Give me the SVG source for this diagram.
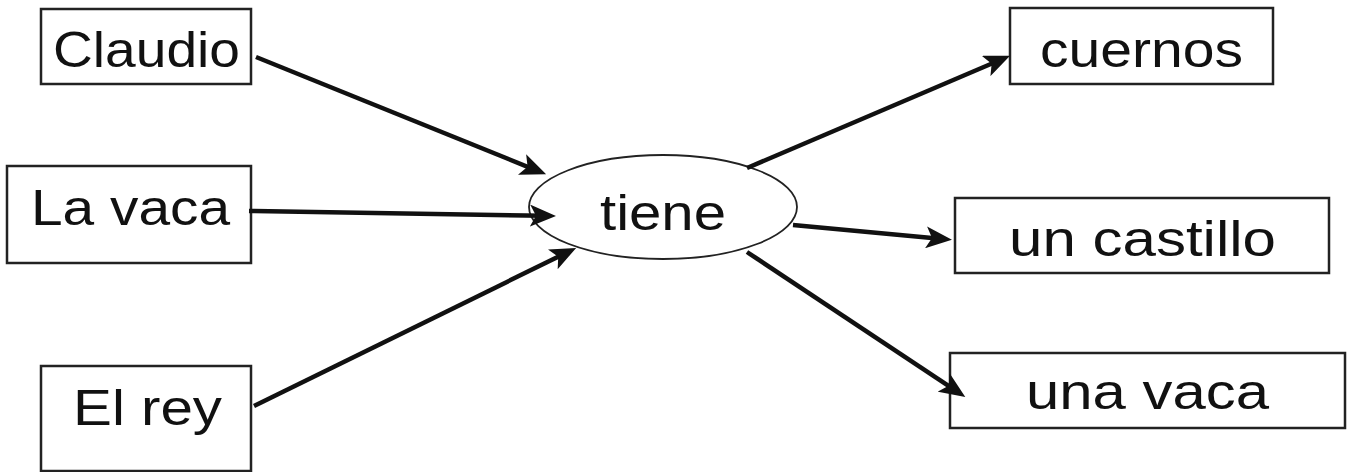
<svg xmlns="http://www.w3.org/2000/svg" width="1355" height="472" viewBox="0 0 1355 472">
<style>
.box{fill:#fff;stroke:#222;stroke-width:2.5}
.ell{fill:#fff;stroke:#222;stroke-width:1.8}
.lbl{font-family:"Liberation Sans","DejaVu Sans",sans-serif;font-size:50px;fill:#111;text-anchor:start}
.edge{stroke:#111;stroke-width:4.5;fill:none;marker-end:url(#ah)}
</style>
<defs>
<marker id="ah" markerUnits="userSpaceOnUse" markerWidth="26" markerHeight="22" viewBox="0 0 26 22" refX="14" refY="11" orient="auto">
<path d="M0,0 L26,11 L0,22 L6,11 z" fill="#111"/>
</marker>
</defs>
<rect width="1355" height="472" fill="#fff"/>
<g id="claudio"><rect class="box" x="41" y="9" width="210" height="75"/><text class="lbl" x="53" y="67" textLength="187" lengthAdjust="spacingAndGlyphs">Claudio</text></g>
<g id="lavaca"><rect class="box" x="7" y="166" width="244" height="97"/><text class="lbl" x="31" y="225" textLength="199" lengthAdjust="spacingAndGlyphs">La vaca</text></g>
<g id="elrey"><rect class="box" x="41" y="366" width="210" height="105"/><text class="lbl" x="73" y="425" textLength="149" lengthAdjust="spacingAndGlyphs">El rey</text></g>
<g id="tiene"><ellipse class="ell" cx="663" cy="207" rx="134" ry="52"/><text class="lbl" x="600" y="230" textLength="126" lengthAdjust="spacingAndGlyphs">tiene</text></g>
<g id="cuernos"><rect class="box" x="1010" y="8" width="263" height="76"/><text class="lbl" x="1040" y="67" textLength="203" lengthAdjust="spacingAndGlyphs">cuernos</text></g>
<g id="uncastillo"><rect class="box" x="955" y="198" width="374" height="75"/><text class="lbl" x="1009" y="256" textLength="267" lengthAdjust="spacingAndGlyphs">un castillo</text></g>
<g id="unavaca"><rect class="box" x="950" y="353" width="395" height="75"/><text class="lbl" x="1026" y="409" textLength="243" lengthAdjust="spacingAndGlyphs">una vaca</text></g>
<g id="connectors">
<line class="edge" x1="256" y1="57" x2="535" y2="169.8"/>
<line class="edge" x1="249" y1="211" x2="544" y2="215.8"/>
<line class="edge" x1="254" y1="406" x2="565.4" y2="253.2"/>
<line class="edge" x1="747" y1="168" x2="999" y2="60.5"/>
<line class="edge" x1="793" y1="225" x2="940" y2="238.7"/>
<line class="edge" x1="747" y1="252" x2="955.3" y2="390.3"/>
</g>
</svg>
